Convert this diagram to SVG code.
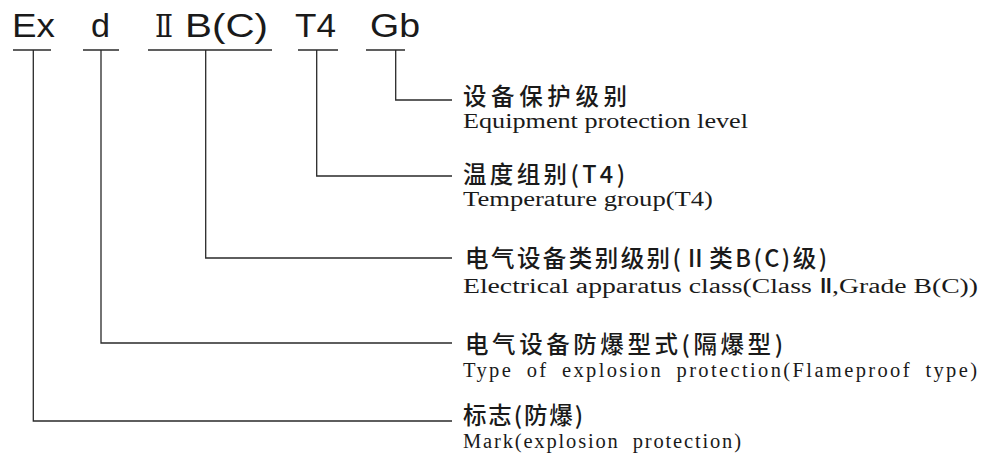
<svg xmlns="http://www.w3.org/2000/svg" width="989" height="455" viewBox="0 0 989 455">
<style>
.code{font-family:"Liberation Sans",Arial,sans-serif;font-size:34px;fill:#1a1a1a}
.roman{font-family:"DejaVu Serif","Liberation Serif","Noto Sans CJK SC",serif;font-size:31px;fill:#1a1a1a}
.cn{font-family:"Noto Sans CJK SC","Noto Sans",sans-serif;font-size:23.5px;font-weight:500;fill:#1a1a1a}
.en{font-family:"Liberation Serif","Times New Roman",serif;font-size:20.5px;fill:#1a1a1a}
.en2{font-family:"Liberation Serif","Times New Roman",serif;font-size:20.5px;word-spacing:6px;fill:#1a1a1a}
.ul{stroke:#2a2a2a;stroke-width:1.3;fill:none}
.conn{stroke:#2a2a2a;stroke-width:1.3;fill:none}
</style>
<rect width="989" height="455" fill="#ffffff"/>

<g id="code-ex">
<text class="code" x="12" y="37" textLength="43" lengthAdjust="spacingAndGlyphs">Ex</text>
<line class="ul" x1="13" y1="50" x2="51" y2="50"/>
</g>
<g id="code-d">
<text class="code" x="91" y="37" textLength="19" lengthAdjust="spacingAndGlyphs">d</text>
<line class="ul" x1="83" y1="50" x2="119" y2="50"/>
</g>
<g id="code-iib">
<text class="roman" x="155" y="37" textLength="18" lengthAdjust="spacingAndGlyphs">Ⅱ</text>
<text class="code" x="185" y="37" textLength="83" lengthAdjust="spacingAndGlyphs">B(C)</text>
<line class="ul" x1="148" y1="50" x2="272" y2="50"/>
</g>
<g id="code-t4">
<text class="code" x="295" y="37" textLength="41" lengthAdjust="spacingAndGlyphs">T4</text>
<line class="ul" x1="298" y1="50" x2="338" y2="50"/>
</g>
<g id="code-gb">
<text class="code" x="370" y="37" textLength="50" lengthAdjust="spacingAndGlyphs">Gb</text>
<line class="ul" x1="366" y1="50" x2="405" y2="50"/>
</g>

<g id="connectors">
<path class="conn" d="M395.7,50 V100 H452"/>
<path class="conn" d="M316.7,50 V176 H452"/>
<path class="conn" d="M205.7,50 V258 H452"/>
<path class="conn" d="M101,50 V343 H452"/>
<path class="conn" d="M33.3,50 V421 H452"/>
</g>

<g id="label-gb">
<text class="cn" x="463" y="105" textLength="164" lengthAdjust="spacing">设备保护级别</text>
<text class="en" x="463" y="128" textLength="285" lengthAdjust="spacingAndGlyphs">Equipment protection level</text>
</g>
<g id="label-t4">
<text class="cn" x="463" y="183" textLength="162" lengthAdjust="spacing">温度组别(T4)</text>
<text class="en" x="463" y="206" textLength="250" lengthAdjust="spacingAndGlyphs">Temperature  group(T4)</text>
</g>
<g id="label-iib">
<text class="cn" x="465" y="267" textLength="362" lengthAdjust="spacing">电气设备类别级别(Ⅱ类B(C)级)</text>
<text class="en" x="463" y="293" textLength="515" lengthAdjust="spacingAndGlyphs">Electrical apparatus class(Class Ⅱ,Grade B(C))</text>
</g>
<g id="label-d">
<text class="cn" x="465" y="353" textLength="318" lengthAdjust="spacing">电气设备防爆型式(隔爆型)</text>
<text class="en2" x="463" y="377" textLength="514" lengthAdjust="spacing">Type of explosion protection(Flameproof type)</text>
</g>
<g id="label-ex">
<text class="cn" x="463" y="424" textLength="120" lengthAdjust="spacing">标志(防爆)</text>
<text class="en2" x="463" y="448" textLength="278" lengthAdjust="spacing">Mark(explosion protection)</text>
</g>
</svg>
